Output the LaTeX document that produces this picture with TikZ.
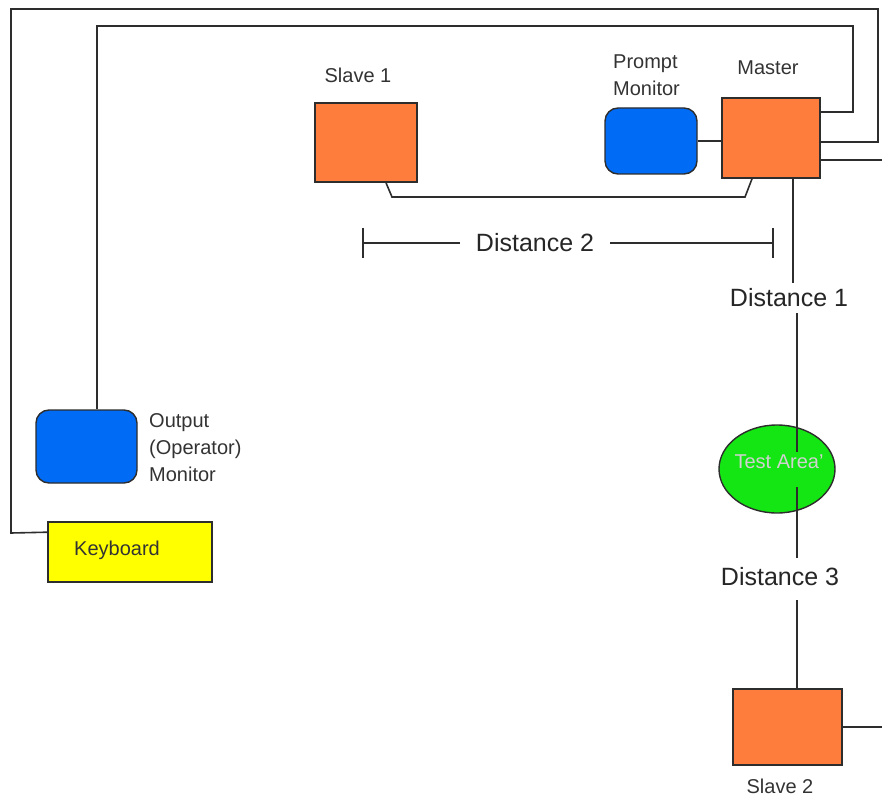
\documentclass[tikz,border=0pt]{standalone}
\usepackage{fontspec}
\setmainfont{Liberation Sans}
\usetikzlibrary{shapes.geometric}
\definecolor{boxorange}{RGB}{255,125,60}
\definecolor{monblue}{RGB}{0,108,245}
\definecolor{areagreen}{RGB}{20,230,20}
\definecolor{kbyellow}{RGB}{255,255,0}
\definecolor{linegray}{RGB}{45,45,45}
\begin{document}
\begin{tikzpicture}[x=1pt,y=-1pt,
  wire/.style={draw=linegray,line width=1.6pt},
  unitbox/.style={draw=linegray,line width=1.6pt,fill=boxorange,inner sep=0pt},
  monbox/.style={draw=linegray,line width=1.4pt,fill=monblue,rounded corners=13pt,inner sep=0pt},
  lbl/.style={font=\fontsize{20}{27}\selectfont,text=black!80,inner sep=0pt},
  dist/.style={font=\fontsize{25}{30}\selectfont,text=black!85,inner sep=0pt,fill=white}]
\useasboundingbox (0,0) rectangle (882,799);
% boxes
\node[unitbox,minimum width=98pt,minimum height=80pt] (master) at (771,138) {};
\node[monbox,minimum width=92pt,minimum height=66pt] (prompt) at (651,141) {};
\node[unitbox,minimum width=102pt,minimum height=79pt] (slaveone) at (366,142.5) {};
\node[unitbox,minimum width=109pt,minimum height=76pt] (slavetwo) at (787.5,727) {};
\node[monbox,minimum width=101pt,minimum height=73pt] (opmon) at (86.5,446.5) {};
\node[draw=linegray,line width=1.6pt,fill=kbyellow,minimum width=164pt,minimum height=60pt,inner sep=0pt] (kb) at (130,552) {};
\node[draw=linegray,line width=1.4pt,fill=areagreen,ellipse,minimum width=116pt,minimum height=88pt,inner sep=0pt] (area) at (777,469) {};
% labels
\node[lbl] (lslaveone) at (358,75) {Slave 1};
\node[lbl,anchor=west,align=left] (lprompt) at (613,75) {Prompt\\Monitor};
\node[lbl] (lmaster) at (768,68) {Master};
\node[lbl,anchor=west,align=left] (lopmon) at (149,448) {Output\\(Operator)\\Monitor};
\node[lbl,anchor=west] (lkb) at (74,550) {Keyboard};
\node[lbl] (lslavetwo) at (780,786) {Slave 2};
% outer wiring
\draw[wire] ([yshift=-11pt]kb.north west) -- (11,533) -- (11,9) -- (878,9) -- (878,142) -- ([yshift=-4pt]master.east);
\draw[wire] ([xshift=10.5pt]opmon.north) -- (97,26) -- (853,26) -- (853,112) -- ([yshift=26pt]master.east);
\coordinate (rightend) at (882,160);
\draw[wire] (rightend) -- ([yshift=-22pt]master.east);
\draw[wire] (prompt.east) -- (prompt.east -| master.west);
\draw[wire] ([xshift=20pt]slaveone.south) -- (392,197) -- (745,197) -- ([xshift=-19pt]master.south);
\draw[wire] (slavetwo.east) -- (882,727);
% distance 2
\coordinate (dtwoa) at (363,243);
\coordinate (dtwob) at (773,243);
\draw[wire,line width=1.3pt] (dtwoa) -- (dtwob);
\draw[wire,line width=1.3pt] (363,228) -- (363,258);
\draw[wire,line width=1.3pt] (773,228) -- (773,258);
\node[dist,inner xsep=16pt,inner ysep=4pt] (dtwo) at (535,243) {Distance 2};
% distance 1 / 3 chain
\node[dist] (done) at (789,298) {Distance 1};
\node[dist] (dthree) at (780,577) {Distance 3};
\draw[wire,line width=1.3pt] ([xshift=22pt]master.south) -- (793,283);
\draw[wire,line width=1.3pt] (797,313) -- (797,452);
\draw[wire,line width=1.3pt] (797,487) -- (797,558);
\draw[wire,line width=1.3pt] (797,600) -- (797,689);
\node[lbl,text=black!18] (larea) at (779,462) {Test Area'};
\end{tikzpicture}
\end{document}
